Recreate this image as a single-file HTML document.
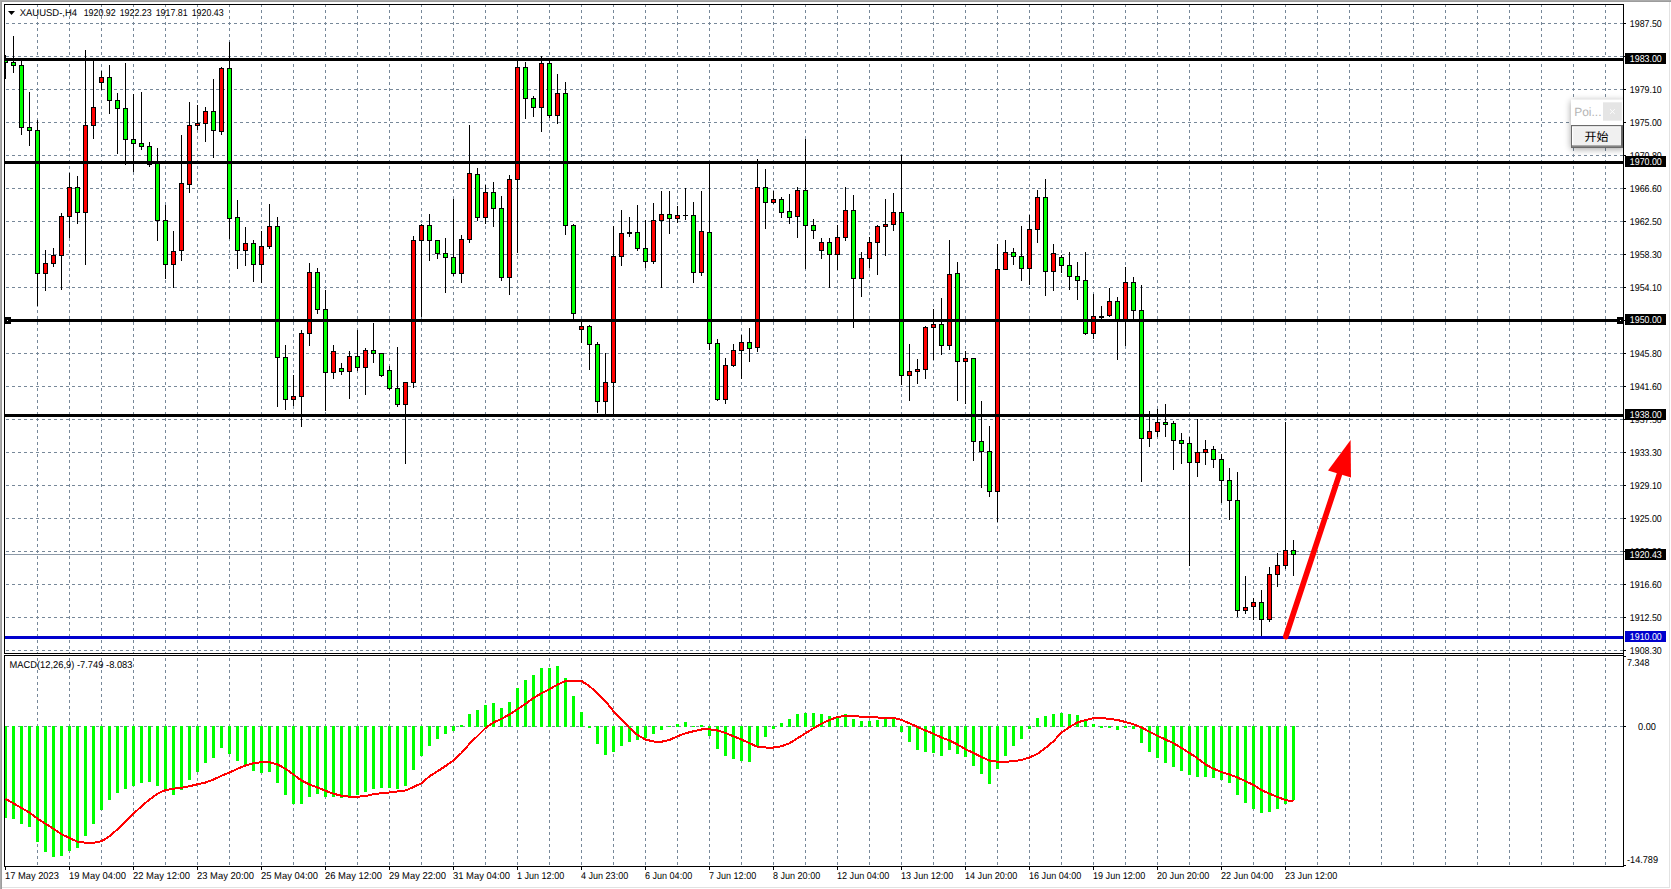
<!DOCTYPE html>
<html lang="zh"><head><meta charset="utf-8"><title>XAUUSD-,H4</title>
<style>html,body{margin:0;padding:0;background:#fff;overflow:hidden}svg{display:block}text{font-family:"Liberation Sans","Noto Sans CJK SC",sans-serif;font-size:9.9px;fill:#000;text-rendering:geometricPrecision}.cj{font-family:"Liberation Sans","Noto Sans CJK SC",sans-serif}</style></head><body>
<svg width="1671" height="889" viewBox="0 0 1671 889" shape-rendering="crispEdges">
<defs><filter id="sh" x="-30%" y="-30%" width="160%" height="160%"><feGaussianBlur stdDeviation="3.5"/></filter><clipPath id="cm"><rect x="5" y="5" width="1618" height="648"/></clipPath><clipPath id="ci"><rect x="5" y="656" width="1618" height="210"/></clipPath></defs>
<rect width="1671" height="889" fill="#fff"/>
<rect x="0" y="0" width="1671" height="1" fill="#ababab"/><rect x="0" y="1" width="1671" height="1" fill="#9c9c9c"/>
<rect x="0" y="0" width="1" height="889" fill="#ababab"/><rect x="1" y="1" width="1" height="888" fill="#9c9c9c"/>
<rect x="1669" y="2" width="1" height="886" fill="#e2e2e2"/><rect x="2" y="887" width="1668" height="1" fill="#e2e2e2"/>
<g stroke="#778899" stroke-width="1" stroke-dasharray="3 3" fill="none">
<line x1="6" x2="1623" y1="23.5" y2="23.5"/>
<line x1="6" x2="1623" y1="56.5" y2="56.5"/>
<line x1="6" x2="1623" y1="89.5" y2="89.5"/>
<line x1="6" x2="1623" y1="122.5" y2="122.5"/>
<line x1="6" x2="1623" y1="155.5" y2="155.5"/>
<line x1="6" x2="1623" y1="188.5" y2="188.5"/>
<line x1="6" x2="1623" y1="221.5" y2="221.5"/>
<line x1="6" x2="1623" y1="254.5" y2="254.5"/>
<line x1="6" x2="1623" y1="287.5" y2="287.5"/>
<line x1="6" x2="1623" y1="320.5" y2="320.5"/>
<line x1="6" x2="1623" y1="353.5" y2="353.5"/>
<line x1="6" x2="1623" y1="386.5" y2="386.5"/>
<line x1="6" x2="1623" y1="419.5" y2="419.5"/>
<line x1="6" x2="1623" y1="452.5" y2="452.5"/>
<line x1="6" x2="1623" y1="485.5" y2="485.5"/>
<line x1="6" x2="1623" y1="518.5" y2="518.5"/>
<line x1="6" x2="1623" y1="551.5" y2="551.5"/>
<line x1="6" x2="1623" y1="584.5" y2="584.5"/>
<line x1="6" x2="1623" y1="617.5" y2="617.5"/>
<line x1="6" x2="1623" y1="650.5" y2="650.5"/>
<line x1="37.5" x2="37.5" y1="4" y2="653"/>
<line x1="37.5" x2="37.5" y1="658" y2="866"/>
<line x1="69.5" x2="69.5" y1="4" y2="653"/>
<line x1="69.5" x2="69.5" y1="658" y2="866"/>
<line x1="101.5" x2="101.5" y1="4" y2="653"/>
<line x1="101.5" x2="101.5" y1="658" y2="866"/>
<line x1="133.5" x2="133.5" y1="4" y2="653"/>
<line x1="133.5" x2="133.5" y1="658" y2="866"/>
<line x1="165.5" x2="165.5" y1="4" y2="653"/>
<line x1="165.5" x2="165.5" y1="658" y2="866"/>
<line x1="197.5" x2="197.5" y1="4" y2="653"/>
<line x1="197.5" x2="197.5" y1="658" y2="866"/>
<line x1="229.5" x2="229.5" y1="4" y2="653"/>
<line x1="229.5" x2="229.5" y1="658" y2="866"/>
<line x1="261.5" x2="261.5" y1="4" y2="653"/>
<line x1="261.5" x2="261.5" y1="658" y2="866"/>
<line x1="293.5" x2="293.5" y1="4" y2="653"/>
<line x1="293.5" x2="293.5" y1="658" y2="866"/>
<line x1="325.5" x2="325.5" y1="4" y2="653"/>
<line x1="325.5" x2="325.5" y1="658" y2="866"/>
<line x1="357.5" x2="357.5" y1="4" y2="653"/>
<line x1="357.5" x2="357.5" y1="658" y2="866"/>
<line x1="389.5" x2="389.5" y1="4" y2="653"/>
<line x1="389.5" x2="389.5" y1="658" y2="866"/>
<line x1="421.5" x2="421.5" y1="4" y2="653"/>
<line x1="421.5" x2="421.5" y1="658" y2="866"/>
<line x1="453.5" x2="453.5" y1="4" y2="653"/>
<line x1="453.5" x2="453.5" y1="658" y2="866"/>
<line x1="485.5" x2="485.5" y1="4" y2="653"/>
<line x1="485.5" x2="485.5" y1="658" y2="866"/>
<line x1="517.5" x2="517.5" y1="4" y2="653"/>
<line x1="517.5" x2="517.5" y1="658" y2="866"/>
<line x1="549.5" x2="549.5" y1="4" y2="653"/>
<line x1="549.5" x2="549.5" y1="658" y2="866"/>
<line x1="581.5" x2="581.5" y1="4" y2="653"/>
<line x1="581.5" x2="581.5" y1="658" y2="866"/>
<line x1="613.5" x2="613.5" y1="4" y2="653"/>
<line x1="613.5" x2="613.5" y1="658" y2="866"/>
<line x1="645.5" x2="645.5" y1="4" y2="653"/>
<line x1="645.5" x2="645.5" y1="658" y2="866"/>
<line x1="677.5" x2="677.5" y1="4" y2="653"/>
<line x1="677.5" x2="677.5" y1="658" y2="866"/>
<line x1="709.5" x2="709.5" y1="4" y2="653"/>
<line x1="709.5" x2="709.5" y1="658" y2="866"/>
<line x1="741.5" x2="741.5" y1="4" y2="653"/>
<line x1="741.5" x2="741.5" y1="658" y2="866"/>
<line x1="773.5" x2="773.5" y1="4" y2="653"/>
<line x1="773.5" x2="773.5" y1="658" y2="866"/>
<line x1="805.5" x2="805.5" y1="4" y2="653"/>
<line x1="805.5" x2="805.5" y1="658" y2="866"/>
<line x1="837.5" x2="837.5" y1="4" y2="653"/>
<line x1="837.5" x2="837.5" y1="658" y2="866"/>
<line x1="869.5" x2="869.5" y1="4" y2="653"/>
<line x1="869.5" x2="869.5" y1="658" y2="866"/>
<line x1="901.5" x2="901.5" y1="4" y2="653"/>
<line x1="901.5" x2="901.5" y1="658" y2="866"/>
<line x1="933.5" x2="933.5" y1="4" y2="653"/>
<line x1="933.5" x2="933.5" y1="658" y2="866"/>
<line x1="965.5" x2="965.5" y1="4" y2="653"/>
<line x1="965.5" x2="965.5" y1="658" y2="866"/>
<line x1="997.5" x2="997.5" y1="4" y2="653"/>
<line x1="997.5" x2="997.5" y1="658" y2="866"/>
<line x1="1029.5" x2="1029.5" y1="4" y2="653"/>
<line x1="1029.5" x2="1029.5" y1="658" y2="866"/>
<line x1="1061.5" x2="1061.5" y1="4" y2="653"/>
<line x1="1061.5" x2="1061.5" y1="658" y2="866"/>
<line x1="1093.5" x2="1093.5" y1="4" y2="653"/>
<line x1="1093.5" x2="1093.5" y1="658" y2="866"/>
<line x1="1125.5" x2="1125.5" y1="4" y2="653"/>
<line x1="1125.5" x2="1125.5" y1="658" y2="866"/>
<line x1="1157.5" x2="1157.5" y1="4" y2="653"/>
<line x1="1157.5" x2="1157.5" y1="658" y2="866"/>
<line x1="1189.5" x2="1189.5" y1="4" y2="653"/>
<line x1="1189.5" x2="1189.5" y1="658" y2="866"/>
<line x1="1221.5" x2="1221.5" y1="4" y2="653"/>
<line x1="1221.5" x2="1221.5" y1="658" y2="866"/>
<line x1="1253.5" x2="1253.5" y1="4" y2="653"/>
<line x1="1253.5" x2="1253.5" y1="658" y2="866"/>
<line x1="1285.5" x2="1285.5" y1="4" y2="653"/>
<line x1="1285.5" x2="1285.5" y1="658" y2="866"/>
<line x1="1317.5" x2="1317.5" y1="4" y2="653"/>
<line x1="1317.5" x2="1317.5" y1="658" y2="866"/>
<line x1="1349.5" x2="1349.5" y1="4" y2="653"/>
<line x1="1349.5" x2="1349.5" y1="658" y2="866"/>
<line x1="1381.5" x2="1381.5" y1="4" y2="653"/>
<line x1="1381.5" x2="1381.5" y1="658" y2="866"/>
<line x1="1413.5" x2="1413.5" y1="4" y2="653"/>
<line x1="1413.5" x2="1413.5" y1="658" y2="866"/>
<line x1="1445.5" x2="1445.5" y1="4" y2="653"/>
<line x1="1445.5" x2="1445.5" y1="658" y2="866"/>
<line x1="1477.5" x2="1477.5" y1="4" y2="653"/>
<line x1="1477.5" x2="1477.5" y1="658" y2="866"/>
<line x1="1509.5" x2="1509.5" y1="4" y2="653"/>
<line x1="1509.5" x2="1509.5" y1="658" y2="866"/>
<line x1="1541.5" x2="1541.5" y1="4" y2="653"/>
<line x1="1541.5" x2="1541.5" y1="658" y2="866"/>
<line x1="1573.5" x2="1573.5" y1="4" y2="653"/>
<line x1="1573.5" x2="1573.5" y1="658" y2="866"/>
<line x1="1605.5" x2="1605.5" y1="4" y2="653"/>
<line x1="1605.5" x2="1605.5" y1="658" y2="866"/>
<line x1="6" x2="1623" y1="726.5" y2="726.5"/>
</g>
<rect x="5" y="554" width="1618" height="1" fill="#8d9aa8"/>
<g clip-path="url(#cm)">
<path d="M5.5 55V79M13.5 36V73M21.5 60V135M29.5 92V146M37.5 120V306M45.5 250V291M53.5 248V267M61.5 213V290M69.5 173V238M77.5 176V224M85.5 50V265M93.5 61V139M101.5 71V90M109.5 65V114M117.5 93V154M125.5 63V165M133.5 94V172M141.5 92V150M149.5 142V167M157.5 148V241M165.5 205V279M173.5 231V288M181.5 135V261M189.5 102V193M197.5 105V130M205.5 107V142M213.5 79V158M221.5 67V135M229.5 42V239M237.5 200V269M245.5 227V266M253.5 240V282M261.5 231V283M269.5 204V249M277.5 217V407M285.5 345V410M293.5 375V406M301.5 330V427M309.5 263V346M317.5 268V314M325.5 290V411M333.5 345V379M341.5 363V375M349.5 351V399M357.5 330V371M365.5 348V395M373.5 323V363M381.5 353V377M389.5 366V390M397.5 347V407M405.5 382V464M413.5 236V388M421.5 224V317M429.5 214V261M437.5 240V259M445.5 238V293M453.5 199V276M461.5 235V283M469.5 125V243M477.5 168V221M485.5 185V224M493.5 182V227M501.5 196V281M509.5 175V295M517.5 60V253M525.5 62V119M533.5 96V117M541.5 56V132M549.5 60V118M557.5 74V124M565.5 82V235M573.5 224V319M581.5 321V343M589.5 325V370M597.5 342V413M605.5 353V414M613.5 226V414M621.5 210V266M629.5 217V237M637.5 205V251M645.5 220V268M653.5 203V264M661.5 191V288M669.5 191V234M677.5 206V223M685.5 188V220M693.5 202V283M701.5 191V276M709.5 163V350M717.5 339V401M725.5 358V404M733.5 344V367M741.5 335V379M749.5 328V362M757.5 159V352M765.5 169V229M773.5 191V204M781.5 197V218M789.5 194V224M797.5 187V238M805.5 139V269M813.5 219V239M821.5 238V259M829.5 238V288M837.5 225V270M845.5 187V241M853.5 195V328M861.5 252V297M869.5 237V268M877.5 225V275M885.5 199V256M893.5 193V231M901.5 155V385M909.5 344V401M917.5 359V384M925.5 326V379M933.5 309V360M941.5 298V355M949.5 240V350M957.5 262V401M965.5 351V404M973.5 358V461M981.5 401V488M989.5 426V497M997.5 244V522M1005.5 240V270M1013.5 248V265M1021.5 226V281M1029.5 215V285M1037.5 190V243M1045.5 179V296M1053.5 244V291M1061.5 255V273M1069.5 252V290M1077.5 262V300M1085.5 252V335M1093.5 294V339M1101.5 306V319M1109.5 288V317M1117.5 297V360M1125.5 267V346M1133.5 277V319M1141.5 285V482M1149.5 411V447M1157.5 409V437M1165.5 404V437M1173.5 421V470M1181.5 433V464M1189.5 437V566M1197.5 419V477M1205.5 440V465M1213.5 446V468M1221.5 454V503M1229.5 468V520M1237.5 472V617M1245.5 576V614M1253.5 598V620M1261.5 590V636M1269.5 567V622M1277.5 553V587M1285.5 422V569M1293.5 540V576" stroke="#000" stroke-width="1" fill="none"/>
<path d="M3 59h5v4h-5zM11 62h5v4h-5zM19 65h5v63h-5zM27 127h5v4h-5zM35 130h5v144h-5zM43 263h5v11h-5zM51 255h5v9h-5zM59 216h5v40h-5zM67 187h5v30h-5zM75 187h5v26h-5zM83 125h5v88h-5zM91 107h5v19h-5zM99 77h5v6h-5zM107 77h5v24h-5zM115 100h5v9h-5zM123 108h5v32h-5zM131 139h5v5h-5zM139 143h5v4h-5zM147 146h5v19h-5zM155 163h5v58h-5zM163 220h5v45h-5zM171 251h5v14h-5zM179 183h5v68h-5zM187 125h5v60h-5zM195 123h5v3h-5zM203 111h5v13h-5zM211 111h5v20h-5zM219 68h5v64h-5zM227 68h5v151h-5zM235 217h5v34h-5zM243 243h5v8h-5zM251 243h5v22h-5zM259 246h5v19h-5zM267 226h5v21h-5zM275 226h5v132h-5zM283 357h5v43h-5zM291 396h5v4h-5zM299 333h5v64h-5zM307 272h5v62h-5zM315 272h5v38h-5zM323 309h5v64h-5zM331 351h5v22h-5zM339 368h5v4h-5zM347 356h5v16h-5zM355 356h5v12h-5zM363 350h5v18h-5zM371 350h5v4h-5zM379 353h5v23h-5zM387 370h5v19h-5zM395 388h5v17h-5zM403 382h5v23h-5zM411 240h5v143h-5zM419 225h5v16h-5zM427 225h5v16h-5zM435 240h5v14h-5zM443 253h5v5h-5zM451 257h5v17h-5zM459 239h5v35h-5zM467 173h5v67h-5zM475 174h5v44h-5zM483 192h5v26h-5zM491 192h5v17h-5zM499 208h5v70h-5zM507 179h5v99h-5zM515 67h5v113h-5zM523 67h5v32h-5zM531 98h5v10h-5zM539 63h5v45h-5zM547 63h5v53h-5zM555 93h5v23h-5zM563 93h5v133h-5zM571 225h5v89h-5zM579 326h5v4h-5zM587 326h5v19h-5zM595 344h5v58h-5zM603 382h5v20h-5zM611 256h5v127h-5zM619 233h5v24h-5zM627 232h5v2h-5zM635 232h5v17h-5zM643 248h5v14h-5zM651 220h5v42h-5zM659 214h5v7h-5zM667 214h5v5h-5zM675 215h5v4h-5zM683 215h5v1h-5zM691 215h5v58h-5zM699 231h5v42h-5zM707 232h5v112h-5zM715 343h5v57h-5zM723 365h5v35h-5zM731 350h5v16h-5zM739 342h5v9h-5zM747 342h5v7h-5zM755 187h5v161h-5zM763 187h5v16h-5zM771 199h5v4h-5zM779 199h5v14h-5zM787 211h5v7h-5zM795 190h5v27h-5zM803 190h5v36h-5zM811 225h5v6h-5zM819 242h5v9h-5zM827 242h5v13h-5zM835 237h5v18h-5zM843 210h5v28h-5zM851 210h5v69h-5zM859 258h5v21h-5zM867 242h5v17h-5zM875 226h5v17h-5zM883 224h5v3h-5zM891 212h5v13h-5zM899 212h5v164h-5zM907 371h5v5h-5zM915 369h5v3h-5zM923 327h5v43h-5zM931 324h5v4h-5zM939 324h5v22h-5zM947 274h5v72h-5zM955 273h5v89h-5zM963 358h5v4h-5zM971 358h5v84h-5zM979 441h5v11h-5zM987 451h5v41h-5zM995 269h5v223h-5zM1003 252h5v18h-5zM1011 252h5v5h-5zM1019 256h5v13h-5zM1027 229h5v40h-5zM1035 197h5v33h-5zM1043 197h5v75h-5zM1051 253h5v19h-5zM1059 257h5v9h-5zM1067 265h5v12h-5zM1075 276h5v5h-5zM1083 280h5v54h-5zM1091 316h5v18h-5zM1099 316h5v2h-5zM1107 301h5v15h-5zM1115 301h5v19h-5zM1123 282h5v38h-5zM1131 282h5v29h-5zM1139 310h5v129h-5zM1147 431h5v8h-5zM1155 422h5v10h-5zM1163 422h5v3h-5zM1171 423h5v18h-5zM1179 440h5v4h-5zM1187 443h5v20h-5zM1195 452h5v11h-5zM1203 449h5v4h-5zM1211 449h5v11h-5zM1219 459h5v22h-5zM1227 480h5v21h-5zM1235 500h5v111h-5zM1243 607h5v4h-5zM1251 602h5v5h-5zM1259 602h5v18h-5zM1267 574h5v46h-5zM1275 565h5v10h-5zM1283 550h5v16h-5zM1291 550h5v5h-5z" fill="#000"/>
<path d="M4 60h3v2h-3zM12 63h3v2h-3zM20 66h3v61h-3zM28 128h3v2h-3zM36 131h3v142h-3zM76 188h3v24h-3zM108 78h3v22h-3zM116 101h3v7h-3zM124 109h3v30h-3zM132 140h3v3h-3zM140 144h3v2h-3zM148 147h3v17h-3zM156 164h3v56h-3zM164 221h3v43h-3zM212 112h3v18h-3zM228 69h3v149h-3zM236 218h3v32h-3zM252 244h3v20h-3zM276 227h3v130h-3zM284 358h3v41h-3zM316 273h3v36h-3zM324 310h3v62h-3zM340 369h3v2h-3zM356 357h3v10h-3zM372 351h3v2h-3zM380 354h3v21h-3zM388 371h3v17h-3zM396 389h3v15h-3zM428 226h3v14h-3zM436 241h3v12h-3zM444 254h3v3h-3zM452 258h3v15h-3zM476 175h3v42h-3zM492 193h3v15h-3zM500 209h3v68h-3zM524 68h3v30h-3zM532 99h3v8h-3zM548 64h3v51h-3zM564 94h3v131h-3zM572 226h3v87h-3zM588 327h3v17h-3zM596 345h3v56h-3zM636 233h3v15h-3zM644 249h3v12h-3zM668 215h3v3h-3zM692 216h3v56h-3zM708 233h3v110h-3zM716 344h3v55h-3zM748 343h3v5h-3zM764 188h3v14h-3zM780 200h3v12h-3zM788 212h3v5h-3zM804 191h3v34h-3zM812 226h3v4h-3zM828 243h3v11h-3zM852 211h3v67h-3zM900 213h3v162h-3zM940 325h3v20h-3zM956 274h3v87h-3zM972 359h3v82h-3zM980 442h3v9h-3zM988 452h3v39h-3zM1012 253h3v3h-3zM1020 257h3v11h-3zM1044 198h3v73h-3zM1060 258h3v7h-3zM1068 266h3v10h-3zM1076 277h3v3h-3zM1084 281h3v52h-3zM1116 302h3v17h-3zM1132 283h3v27h-3zM1140 311h3v127h-3zM1164 423h3v1h-3zM1172 424h3v16h-3zM1180 441h3v2h-3zM1188 444h3v18h-3zM1212 450h3v9h-3zM1220 460h3v20h-3zM1228 481h3v19h-3zM1236 501h3v109h-3zM1260 603h3v16h-3zM1292 551h3v3h-3z" fill="#00ff00"/>
<path d="M44 264h3v9h-3zM52 256h3v7h-3zM60 217h3v38h-3zM68 188h3v28h-3zM84 126h3v86h-3zM92 108h3v17h-3zM100 78h3v4h-3zM172 252h3v12h-3zM180 184h3v66h-3zM188 126h3v58h-3zM196 124h3v1h-3zM204 112h3v11h-3zM220 69h3v62h-3zM244 244h3v6h-3zM260 247h3v17h-3zM268 227h3v19h-3zM292 397h3v2h-3zM300 334h3v62h-3zM308 273h3v60h-3zM332 352h3v20h-3zM348 357h3v14h-3zM364 351h3v16h-3zM404 383h3v21h-3zM412 241h3v141h-3zM420 226h3v14h-3zM460 240h3v33h-3zM468 174h3v65h-3zM484 193h3v24h-3zM508 180h3v97h-3zM516 68h3v111h-3zM540 64h3v43h-3zM556 94h3v21h-3zM580 327h3v2h-3zM604 383h3v18h-3zM612 257h3v125h-3zM620 234h3v22h-3zM652 221h3v40h-3zM660 215h3v5h-3zM676 216h3v2h-3zM700 232h3v40h-3zM724 366h3v33h-3zM732 351h3v14h-3zM740 343h3v7h-3zM756 188h3v159h-3zM772 200h3v2h-3zM796 191h3v25h-3zM820 243h3v7h-3zM836 238h3v16h-3zM844 211h3v26h-3zM860 259h3v19h-3zM868 243h3v15h-3zM876 227h3v15h-3zM884 225h3v1h-3zM892 213h3v11h-3zM908 372h3v3h-3zM916 370h3v1h-3zM924 328h3v41h-3zM932 325h3v2h-3zM948 275h3v70h-3zM964 359h3v2h-3zM996 270h3v221h-3zM1004 253h3v16h-3zM1028 230h3v38h-3zM1036 198h3v31h-3zM1052 254h3v17h-3zM1092 317h3v16h-3zM1108 302h3v13h-3zM1124 283h3v36h-3zM1148 432h3v6h-3zM1156 423h3v8h-3zM1196 453h3v9h-3zM1204 450h3v2h-3zM1244 608h3v2h-3zM1252 603h3v3h-3zM1268 575h3v44h-3zM1276 566h3v8h-3zM1284 551h3v14h-3z" fill="#ff0000"/>
</g>
<rect x="5" y="58" width="1618" height="3" fill="#000"/>
<rect x="5" y="161" width="1618" height="3" fill="#000"/>
<rect x="5" y="319" width="1618" height="3" fill="#000"/>
<rect x="5" y="414" width="1618" height="3" fill="#000"/>
<rect x="5" y="636" width="1618" height="3" fill="#0000cd"/>
<rect x="4" y="317" width="7" height="7" fill="#000"/><rect x="7" y="320" width="1" height="1" fill="#fff"/>
<rect x="1617" y="317" width="7" height="7" fill="#000"/><rect x="1620" y="320" width="1" height="1" fill="#fff"/>
<g shape-rendering="geometricPrecision">
<line x1="1285.8" y1="636.5" x2="1339.5" y2="474" stroke="#ff0000" stroke-width="5.6" stroke-linecap="round"/>
<polygon points="1350.6,440 1328,470.5 1351,477.6" fill="#ff0000"/>
</g>
<g clip-path="url(#ci)">
<path d="M4 726h3v92h-3zM12 726h3v93h-3zM20 726h3v98h-3zM28 726h3v101h-3zM36 726h3v116h-3zM44 726h3v126h-3zM52 726h3v131h-3zM60 726h3v130h-3zM68 726h3v125h-3zM76 726h3v122h-3zM84 726h3v110h-3zM92 726h3v98h-3zM100 726h3v84h-3zM108 726h3v74h-3zM116 726h3v67h-3zM124 726h3v63h-3zM132 726h3v60h-3zM140 726h3v57h-3zM148 726h3v56h-3zM156 726h3v60h-3zM164 726h3v64h-3zM172 726h3v69h-3zM180 726h3v64h-3zM188 726h3v54h-3zM196 726h3v46h-3zM204 726h3v37h-3zM212 726h3v32h-3zM220 726h3v22h-3zM228 726h3v28h-3zM236 726h3v35h-3zM244 726h3v39h-3zM252 726h3v45h-3zM260 726h3v47h-3zM268 726h3v46h-3zM276 726h3v57h-3zM284 726h3v69h-3zM292 726h3v78h-3zM300 726h3v78h-3zM308 726h3v71h-3zM316 726h3v68h-3zM324 726h3v71h-3zM332 726h3v71h-3zM340 726h3v72h-3zM348 726h3v71h-3zM356 726h3v69h-3zM364 726h3v66h-3zM372 726h3v63h-3zM380 726h3v62h-3zM388 726h3v62h-3zM396 726h3v63h-3zM404 726h3v60h-3zM412 726h3v44h-3zM420 726h3v30h-3zM428 726h3v20h-3zM436 726h3v13h-3zM444 726h3v8h-3zM452 726h3v5h-3zM460 725h3v2h-3zM468 714h3v13h-3zM476 710h3v17h-3zM484 705h3v22h-3zM492 703h3v24h-3zM500 708h3v19h-3zM508 702h3v25h-3zM516 688h3v39h-3zM524 680h3v47h-3zM532 675h3v52h-3zM540 668h3v59h-3zM548 668h3v59h-3zM556 666h3v61h-3zM564 678h3v49h-3zM572 696h3v31h-3zM580 712h3v15h-3zM588 726h3v2h-3zM596 726h3v18h-3zM604 726h3v29h-3zM612 726h3v26h-3zM620 726h3v20h-3zM628 726h3v16h-3zM636 726h3v14h-3zM644 726h3v12h-3zM652 726h3v8h-3zM660 726h3v4h-3zM668 726h3v1h-3zM676 724h3v3h-3zM684 722h3v5h-3zM692 726h3v1h-3zM700 725h3v2h-3zM708 726h3v10h-3zM716 726h3v23h-3zM724 726h3v30h-3zM732 726h3v33h-3zM740 726h3v35h-3zM748 726h3v36h-3zM756 726h3v21h-3zM764 726h3v11h-3zM772 726h3v3h-3zM780 723h3v4h-3zM788 719h3v8h-3zM796 714h3v13h-3zM804 713h3v14h-3zM812 713h3v14h-3zM820 714h3v13h-3zM828 716h3v11h-3zM836 717h3v10h-3zM844 714h3v13h-3zM852 719h3v8h-3zM860 721h3v6h-3zM868 721h3v6h-3zM876 720h3v7h-3zM884 718h3v9h-3zM892 718h3v9h-3zM900 726h3v6h-3zM908 726h3v16h-3zM916 726h3v24h-3zM924 726h3v26h-3zM932 726h3v27h-3zM940 726h3v30h-3zM948 726h3v24h-3zM956 726h3v28h-3zM964 726h3v31h-3zM972 726h3v40h-3zM980 726h3v48h-3zM988 726h3v58h-3zM996 726h3v43h-3zM1004 726h3v30h-3zM1012 726h3v20h-3zM1020 726h3v13h-3zM1028 726h3v3h-3zM1036 718h3v9h-3zM1044 716h3v11h-3zM1052 714h3v13h-3zM1060 713h3v14h-3zM1068 714h3v13h-3zM1076 715h3v12h-3zM1084 721h3v6h-3zM1092 724h3v3h-3zM1100 726h3v2h-3zM1108 726h3v2h-3zM1116 726h3v4h-3zM1124 726h3v2h-3zM1132 726h3v3h-3zM1140 726h3v17h-3zM1148 726h3v26h-3zM1156 726h3v32h-3zM1164 726h3v37h-3zM1172 726h3v41h-3zM1180 726h3v45h-3zM1188 726h3v49h-3zM1196 726h3v51h-3zM1204 726h3v51h-3zM1212 726h3v52h-3zM1220 726h3v54h-3zM1228 726h3v57h-3zM1236 726h3v69h-3zM1244 726h3v77h-3zM1252 726h3v83h-3zM1260 726h3v87h-3zM1268 726h3v86h-3zM1276 726h3v83h-3zM1284 726h3v78h-3zM1292 726h3v74h-3z" fill="#00ff00"/>
<polyline points="5.5,798.75 13.5,803.50 21.5,808.00 29.5,812.50 37.5,818.75 45.5,823.75 53.5,828.75 61.5,834.25 69.5,838.00 77.5,841.75 85.5,842.75 93.5,842.75 101.5,841.25 109.5,836.25 117.5,829.25 125.5,821.25 133.5,813.75 141.5,806.25 149.5,799.50 157.5,793.75 165.5,790.00 173.5,788.75 181.5,787.75 189.5,786.25 197.5,784.25 205.5,782.50 213.5,779.50 221.5,775.75 229.5,772.50 237.5,768.75 245.5,765.50 253.5,763.25 261.5,762.25 269.5,762.25 277.5,764.50 285.5,768.75 293.5,774.50 301.5,780.50 309.5,784.50 317.5,787.50 325.5,790.75 333.5,793.75 341.5,795.75 349.5,796.75 357.5,796.75 365.5,796.00 373.5,794.25 381.5,793.25 389.5,792.50 397.5,791.50 405.5,790.50 413.5,787.00 421.5,783.25 429.5,776.25 437.5,771.30 445.5,766.00 453.5,760.50 461.5,753.00 469.5,743.75 477.5,736.00 485.5,728.00 493.5,722.50 501.5,718.75 509.5,714.50 517.5,709.25 525.5,703.75 533.5,698.00 541.5,693.25 549.5,689.25 557.5,684.50 565.5,681.00 573.5,680.75 581.5,681.00 589.5,686.25 597.5,693.25 605.5,701.25 613.5,711.25 621.5,719.50 629.5,728.00 637.5,735.00 645.5,739.50 653.5,741.50 661.5,741.75 669.5,740.00 677.5,736.25 685.5,733.25 693.5,731.25 701.5,729.50 709.5,729.25 717.5,730.50 725.5,733.00 733.5,736.25 741.5,739.50 749.5,743.25 757.5,746.75 765.5,747.50 773.5,747.50 781.5,746.25 789.5,743.25 797.5,738.25 805.5,733.25 813.5,728.25 821.5,723.75 829.5,720.00 837.5,717.00 845.5,716.00 853.5,716.00 861.5,716.75 869.5,717.00 877.5,717.50 885.5,717.75 893.5,717.75 901.5,720.00 909.5,723.25 917.5,727.00 925.5,730.50 933.5,733.75 941.5,737.50 949.5,740.50 957.5,744.50 965.5,749.25 973.5,753.00 981.5,757.00 989.5,760.50 997.5,761.75 1005.5,761.75 1013.5,761.25 1021.5,760.00 1029.5,757.50 1037.5,753.75 1045.5,748.00 1053.5,741.25 1061.5,732.50 1069.5,727.00 1077.5,722.50 1085.5,720.00 1093.5,718.25 1101.5,718.00 1109.5,719.00 1117.5,720.00 1125.5,722.00 1133.5,724.25 1141.5,727.50 1149.5,731.75 1157.5,735.75 1165.5,739.50 1173.5,743.25 1181.5,748.00 1189.5,753.00 1197.5,758.25 1205.5,764.50 1213.5,768.75 1221.5,772.00 1229.5,774.50 1237.5,777.50 1245.5,781.25 1253.5,785.00 1261.5,790.00 1269.5,793.75 1277.5,797.00 1285.5,800.00 1293.5,801.50" fill="none" stroke="#ff0000" stroke-width="2" stroke-linejoin="round" shape-rendering="crispEdges"/>
</g>
<g fill="#000">
<rect x="4" y="4" width="1620" height="1"/>
<rect x="4" y="4" width="1" height="650"/>
<rect x="4" y="653" width="1620" height="1"/>
<rect x="4" y="655" width="1620" height="1"/>
<rect x="4" y="655" width="1" height="212"/>
<rect x="4" y="866" width="1620" height="1"/>
<rect x="1623" y="4" width="1" height="863"/>
</g>
<rect x="5" y="654" width="1618" height="1" fill="#fff"/>
<g fill="#000">
<rect x="1624" y="23" width="2" height="1"/>
<rect x="1624" y="56" width="2" height="1"/>
<rect x="1624" y="89" width="2" height="1"/>
<rect x="1624" y="122" width="2" height="1"/>
<rect x="1624" y="155" width="2" height="1"/>
<rect x="1624" y="188" width="2" height="1"/>
<rect x="1624" y="221" width="2" height="1"/>
<rect x="1624" y="254" width="2" height="1"/>
<rect x="1624" y="287" width="2" height="1"/>
<rect x="1624" y="320" width="2" height="1"/>
<rect x="1624" y="353" width="2" height="1"/>
<rect x="1624" y="386" width="2" height="1"/>
<rect x="1624" y="419" width="2" height="1"/>
<rect x="1624" y="452" width="2" height="1"/>
<rect x="1624" y="485" width="2" height="1"/>
<rect x="1624" y="518" width="2" height="1"/>
<rect x="1624" y="551" width="2" height="1"/>
<rect x="1624" y="584" width="2" height="1"/>
<rect x="1624" y="617" width="2" height="1"/>
<rect x="1624" y="650" width="2" height="1"/>
<rect x="1624" y="726" width="2" height="1"/>
<rect x="1624" y="656" width="2" height="1"/>
<rect x="1624" y="865" width="2" height="1"/>
<rect x="5" y="867" width="1" height="3"/>
<rect x="69" y="867" width="1" height="3"/>
<rect x="133" y="867" width="1" height="3"/>
<rect x="197" y="867" width="1" height="3"/>
<rect x="261" y="867" width="1" height="3"/>
<rect x="325" y="867" width="1" height="3"/>
<rect x="389" y="867" width="1" height="3"/>
<rect x="453" y="867" width="1" height="3"/>
<rect x="517" y="867" width="1" height="3"/>
<rect x="581" y="867" width="1" height="3"/>
<rect x="645" y="867" width="1" height="3"/>
<rect x="709" y="867" width="1" height="3"/>
<rect x="773" y="867" width="1" height="3"/>
<rect x="837" y="867" width="1" height="3"/>
<rect x="901" y="867" width="1" height="3"/>
<rect x="965" y="867" width="1" height="3"/>
<rect x="1029" y="867" width="1" height="3"/>
<rect x="1093" y="867" width="1" height="3"/>
<rect x="1157" y="867" width="1" height="3"/>
<rect x="1221" y="867" width="1" height="3"/>
<rect x="1285" y="867" width="1" height="3"/>
</g>
<g>
<text x="1629.8" y="27.2" textLength="32" lengthAdjust="spacingAndGlyphs">1987.50</text>
<text x="1629.8" y="60.2" textLength="32" lengthAdjust="spacingAndGlyphs">1983.30</text>
<text x="1629.8" y="93.2" textLength="32" lengthAdjust="spacingAndGlyphs">1979.10</text>
<text x="1629.8" y="126.2" textLength="32" lengthAdjust="spacingAndGlyphs">1975.00</text>
<text x="1629.8" y="159.2" textLength="32" lengthAdjust="spacingAndGlyphs">1970.80</text>
<text x="1629.8" y="192.2" textLength="32" lengthAdjust="spacingAndGlyphs">1966.60</text>
<text x="1629.8" y="225.2" textLength="32" lengthAdjust="spacingAndGlyphs">1962.50</text>
<text x="1629.8" y="258.2" textLength="32" lengthAdjust="spacingAndGlyphs">1958.30</text>
<text x="1629.8" y="291.2" textLength="32" lengthAdjust="spacingAndGlyphs">1954.10</text>
<text x="1629.8" y="324.2" textLength="32" lengthAdjust="spacingAndGlyphs">1950.00</text>
<text x="1629.8" y="357.2" textLength="32" lengthAdjust="spacingAndGlyphs">1945.80</text>
<text x="1629.8" y="390.2" textLength="32" lengthAdjust="spacingAndGlyphs">1941.60</text>
<text x="1629.8" y="423.2" textLength="32" lengthAdjust="spacingAndGlyphs">1937.50</text>
<text x="1629.8" y="456.2" textLength="32" lengthAdjust="spacingAndGlyphs">1933.30</text>
<text x="1629.8" y="489.2" textLength="32" lengthAdjust="spacingAndGlyphs">1929.10</text>
<text x="1629.8" y="522.2" textLength="32" lengthAdjust="spacingAndGlyphs">1925.00</text>
<text x="1629.8" y="555.2" textLength="32" lengthAdjust="spacingAndGlyphs">1920.80</text>
<text x="1629.8" y="588.2" textLength="32" lengthAdjust="spacingAndGlyphs">1916.60</text>
<text x="1629.8" y="621.2" textLength="32" lengthAdjust="spacingAndGlyphs">1912.50</text>
<text x="1629.8" y="654.2" textLength="32" lengthAdjust="spacingAndGlyphs">1908.30</text>
<text x="1627" y="666.2" textLength="22.5" lengthAdjust="spacingAndGlyphs">7.348</text>
<text x="1638" y="730.2" textLength="18" lengthAdjust="spacingAndGlyphs">0.00</text>
<text x="1627" y="863.2" textLength="31" lengthAdjust="spacingAndGlyphs">-14.789</text>
</g>
<rect x="1625" y="53" width="41" height="11" fill="#000"/>
<text x="1629.8" y="62.2" textLength="32" lengthAdjust="spacingAndGlyphs" style="fill:#fff">1983.00</text>
<rect x="1625" y="156" width="41" height="11" fill="#000"/>
<text x="1629.8" y="165.2" textLength="32" lengthAdjust="spacingAndGlyphs" style="fill:#fff">1970.00</text>
<rect x="1625" y="314" width="41" height="11" fill="#000"/>
<text x="1629.8" y="323.2" textLength="32" lengthAdjust="spacingAndGlyphs" style="fill:#fff">1950.00</text>
<rect x="1625" y="409" width="41" height="11" fill="#000"/>
<text x="1629.8" y="418.2" textLength="32" lengthAdjust="spacingAndGlyphs" style="fill:#fff">1938.00</text>
<rect x="1625" y="549" width="41" height="11" fill="#000"/>
<text x="1629.8" y="558.2" textLength="32" lengthAdjust="spacingAndGlyphs" style="fill:#fff">1920.43</text>
<rect x="1625" y="631" width="41" height="11" fill="#0000cd"/>
<text x="1629.8" y="640.2" textLength="32" lengthAdjust="spacingAndGlyphs" style="fill:#fff">1910.00</text>
<g>
<text x="5" y="879.2" textLength="53.9" lengthAdjust="spacingAndGlyphs">17 May 2023</text>
<text x="69" y="879.2" textLength="57" lengthAdjust="spacingAndGlyphs">19 May 04:00</text>
<text x="133" y="879.2" textLength="57" lengthAdjust="spacingAndGlyphs">22 May 12:00</text>
<text x="197" y="879.2" textLength="57" lengthAdjust="spacingAndGlyphs">23 May 20:00</text>
<text x="261" y="879.2" textLength="57" lengthAdjust="spacingAndGlyphs">25 May 04:00</text>
<text x="325" y="879.2" textLength="57" lengthAdjust="spacingAndGlyphs">26 May 12:00</text>
<text x="389" y="879.2" textLength="57" lengthAdjust="spacingAndGlyphs">29 May 22:00</text>
<text x="453" y="879.2" textLength="57" lengthAdjust="spacingAndGlyphs">31 May 04:00</text>
<text x="517" y="879.2" textLength="47.2" lengthAdjust="spacingAndGlyphs">1 Jun 12:00</text>
<text x="581" y="879.2" textLength="47.2" lengthAdjust="spacingAndGlyphs">4 Jun 23:00</text>
<text x="645" y="879.2" textLength="47.2" lengthAdjust="spacingAndGlyphs">6 Jun 04:00</text>
<text x="709" y="879.2" textLength="47.2" lengthAdjust="spacingAndGlyphs">7 Jun 12:00</text>
<text x="773" y="879.2" textLength="47.2" lengthAdjust="spacingAndGlyphs">8 Jun 20:00</text>
<text x="837" y="879.2" textLength="52.4" lengthAdjust="spacingAndGlyphs">12 Jun 04:00</text>
<text x="901" y="879.2" textLength="52.4" lengthAdjust="spacingAndGlyphs">13 Jun 12:00</text>
<text x="965" y="879.2" textLength="52.4" lengthAdjust="spacingAndGlyphs">14 Jun 20:00</text>
<text x="1029" y="879.2" textLength="52.4" lengthAdjust="spacingAndGlyphs">16 Jun 04:00</text>
<text x="1093" y="879.2" textLength="52.4" lengthAdjust="spacingAndGlyphs">19 Jun 12:00</text>
<text x="1157" y="879.2" textLength="52.4" lengthAdjust="spacingAndGlyphs">20 Jun 20:00</text>
<text x="1221" y="879.2" textLength="52.4" lengthAdjust="spacingAndGlyphs">22 Jun 04:00</text>
<text x="1285" y="879.2" textLength="52.4" lengthAdjust="spacingAndGlyphs">23 Jun 12:00</text>
</g>
<polygon points="8,11 15,11 11.5,15" fill="#000" shape-rendering="geometricPrecision"/>
<text x="19.7" y="16.2" textLength="57.4" lengthAdjust="spacingAndGlyphs">XAUUSD-,H4</text>
<text x="83.7" y="16.2" textLength="32" lengthAdjust="spacingAndGlyphs">1920.92</text>
<text x="119.7" y="16.2" textLength="32" lengthAdjust="spacingAndGlyphs">1922.23</text>
<text x="155.7" y="16.2" textLength="32" lengthAdjust="spacingAndGlyphs">1917.81</text>
<text x="191.7" y="16.2" textLength="32" lengthAdjust="spacingAndGlyphs">1920.43</text>
<text x="9.5" y="668.2" textLength="123" lengthAdjust="spacingAndGlyphs">MACD(12,26,9) -7.749 -8.083</text>
<g shape-rendering="geometricPrecision">
<g clip-path="url(#cm)"><rect x="1571" y="101" width="54" height="48" fill="#000" opacity=".38" filter="url(#sh)"/></g>
<rect x="1571" y="99.5" width="52" height="26" fill="#fff"/>
<rect x="1603" y="102.3" width="18.8" height="18.4" fill="#e5e5e5"/>
<path d="M1610 109.2L1614.8 113.9M1614.8 109.2L1610 113.9" stroke="#fff" stroke-width="0.9" fill="none"/>
<text x="1574.2" y="115.7" style="font-size:12px;fill:#b4b4b4">Poi...</text>
<rect x="1571" y="125" width="52" height="23" fill="#6a6a6a"/>
<rect x="1572" y="126.2" width="49" height="19.3" fill="#fff"/>
<rect x="1573.2" y="127.3" width="47.6" height="18" fill="#f0f0f0"/>
<rect x="1572" y="145.3" width="49" height="1.2" fill="#a0a0a0"/>
<text class="cj" x="1596.6" y="141.2" text-anchor="middle" style="font-size:12px">开始</text>
</g>
<rect x="1623" y="90" width="1" height="70" fill="#000"/>
</svg></body></html>
